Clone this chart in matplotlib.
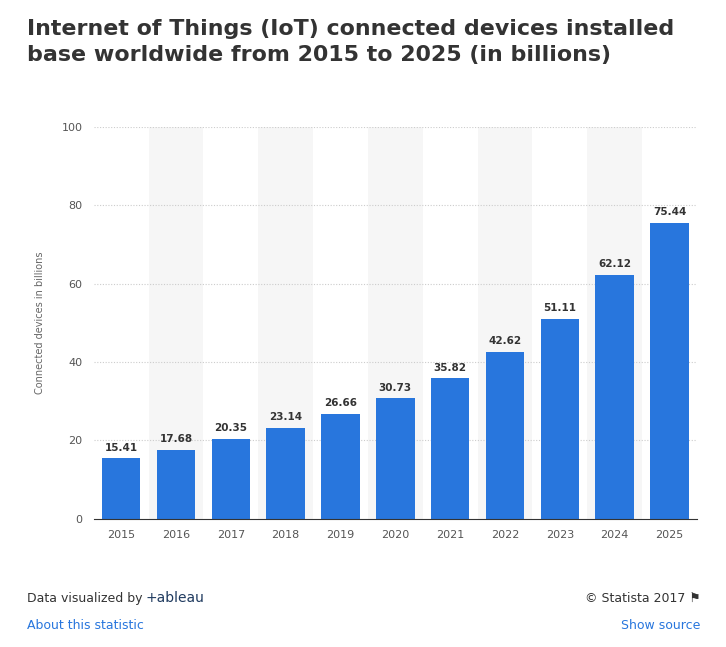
import matplotlib.pyplot as plt

years = ["2015", "2016", "2017", "2018", "2019", "2020", "2021", "2022", "2023", "2024", "2025"]
devices = [15.41, 17.68, 20.35, 23.14, 26.66, 30.73, 35.82, 42.62, 51.11, 62.12, 75.44]
y_ticks = [0, 20, 40, 60, 80, 100]

fig = plt.figure(figsize=(7.26, 6.47), dpi=100)
ax = fig.add_axes([0.129, 0.198, 0.831, 0.606])

x = range(len(years))
for i in x:
    if i % 2 == 1:
        ax.axvspan(i - 0.5, i + 0.5, color="#f6f6f6", zorder=0, lw=0)
for t in y_ticks[1:]:
    ax.axhline(t, color="#cccccc", lw=0.8, ls=(0, (1, 1.5)), zorder=1)

ax.bar(x, devices, width=0.7, color="#2876dd", zorder=2)
for i, v in zip(x, devices):
    ax.text(i, v + 1.5, f"{v:.2f}", ha="center", va="bottom", fontsize=7.5,
            fontweight="bold", color="#333333")

ax.set_xlim(-0.5, len(years) - 0.5)
ax.set_ylim(0, 100)
ax.set_xticks(list(x), years)
ax.set_yticks(y_ticks)
ax.tick_params(axis="both", length=0, labelsize=8, colors="#555555", pad=8)
for s in ["top", "right", "left"]:
    ax.spines[s].set_visible(False)
ax.spines["bottom"].set_color("#333333")
ax.set_ylabel("Connected devices in billions", fontsize=7, color="#666666", labelpad=12)

fig.text(0.037, 0.970, "Internet of Things (IoT) connected devices installed\nbase worldwide from 2015 to 2025 (in billions)",
         ha="left", va="top", fontsize=15.9, fontweight="bold", color="#333333", linespacing=1.35)

fig.text(0.037, 0.075, "Data visualized by", fontsize=9, color="#333333", va="center")
fig.text(0.2, 0.075, "+ableau", fontsize=10, color="#1f3a5f", va="center")
fig.text(0.037, 0.033, "About this statistic", fontsize=9, color="#2876dd", va="center")
fig.text(0.965, 0.075, "© Statista 2017 \u2691", fontsize=9, color="#333333", va="center", ha="right")
fig.text(0.965, 0.033, "Show source", fontsize=9, color="#2876dd", va="center", ha="right")

fig.savefig("out.png", dpi=100)
